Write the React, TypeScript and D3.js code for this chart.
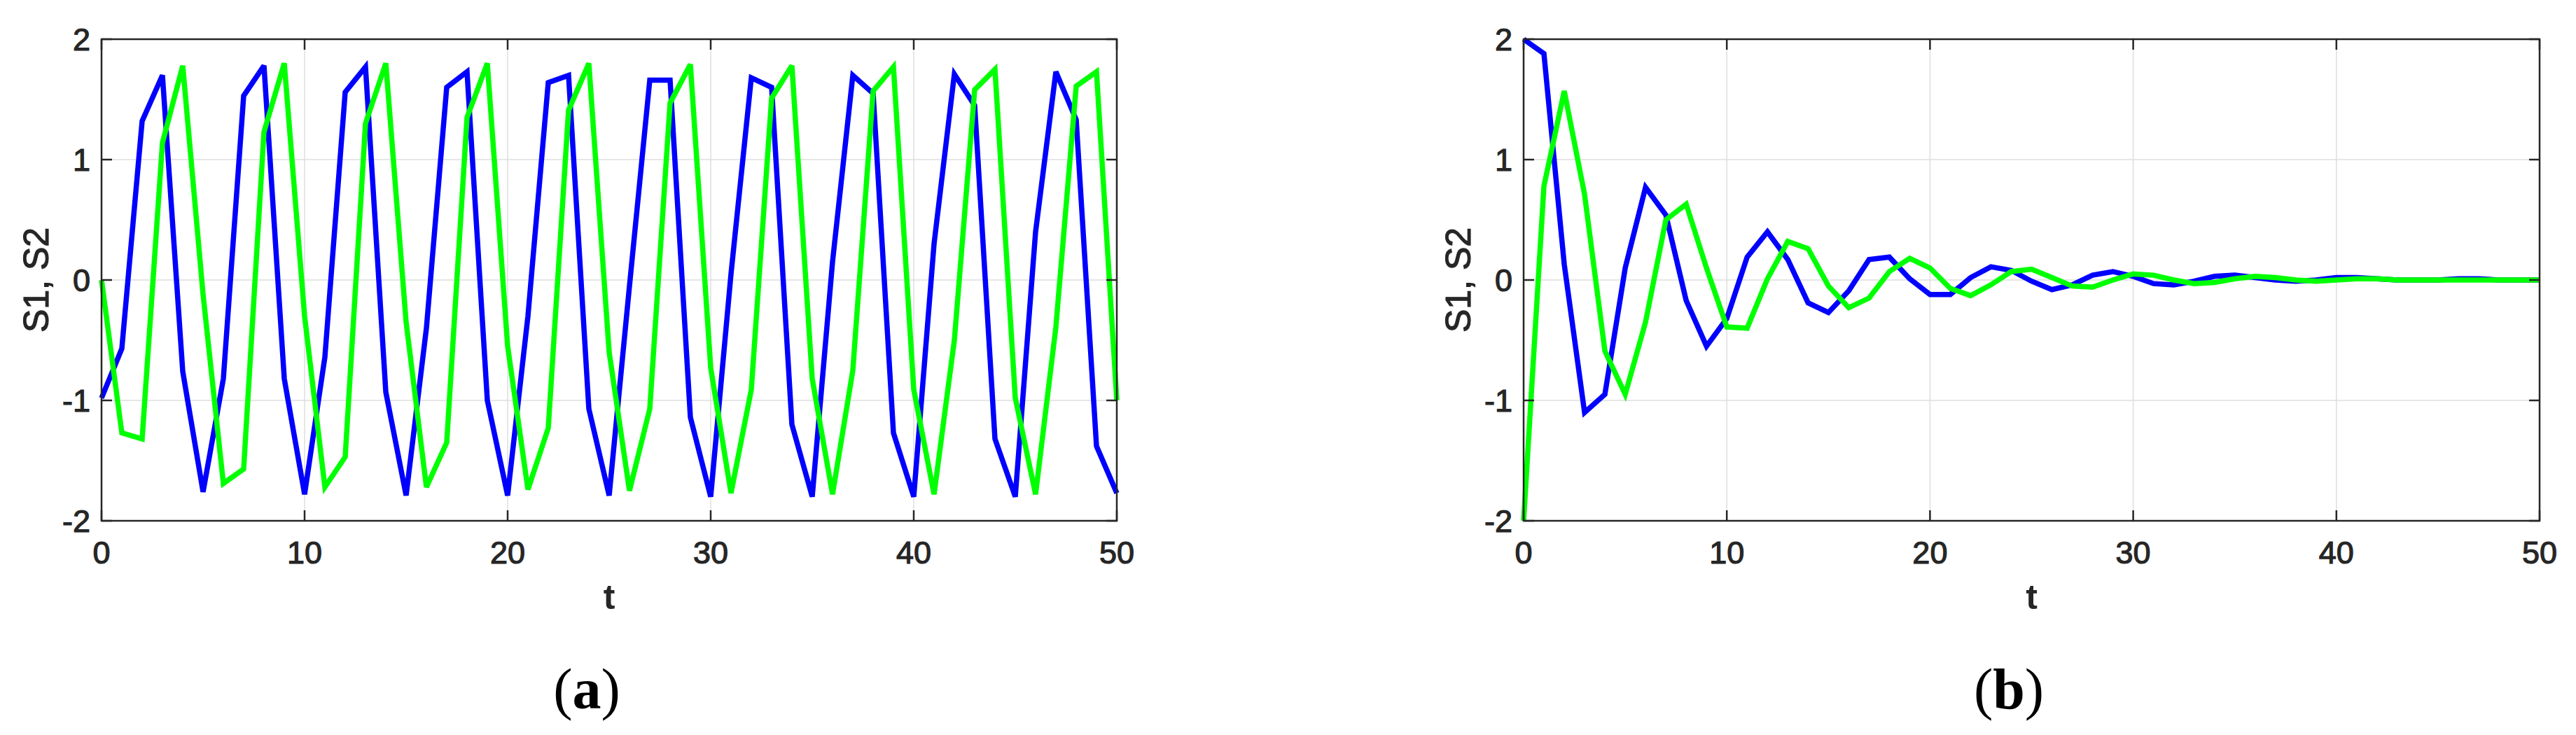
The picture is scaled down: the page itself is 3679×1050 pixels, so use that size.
import React from "react";
import * as d3 from "d3";

const tValues = d3.range(0, 51);

const s1PanelA = [
  -0.98, -0.57, 1.32, 1.70, -0.76, -1.76, -0.82, 1.53, 1.78, -0.82,
  -1.78, -0.64, 1.56, 1.77, -0.93, -1.79, -0.40, 1.60, 1.73, -1.00,
  -1.79, -0.30, 1.64, 1.70, -1.07, -1.79, -0.05, 1.66, 1.66, -1.14,
  -1.80, 0.05, 1.68, 1.60, -1.20, -1.80, 0.15, 1.70, 1.55, -1.27,
  -1.80, 0.30, 1.71, 1.45, -1.32, -1.80, 0.40, 1.73, 1.33, -1.38,
  -1.77,
];
const s2PanelA = [
  0.0, -1.27, -1.32, 1.14, 1.78, -0.12, -1.69, -1.57, 1.23, 1.80,
  -0.30, -1.72, -1.47, 1.30, 1.80, -0.35, -1.72, -1.35, 1.35, 1.80,
  -0.55, -1.74, -1.23, 1.41, 1.80, -0.60, -1.75, -1.07, 1.47, 1.79,
  -0.73, -1.77, -0.91, 1.51, 1.78, -0.82, -1.78, -0.75, 1.57, 1.77,
  -0.91, -1.78, -0.50, 1.58, 1.75, -0.98, -1.78, -0.39, 1.61, 1.73,
  -1.00,
];
const s1PanelB = [
  2.0, 1.88, 0.13, -1.10, -0.95, 0.10, 0.77, 0.54, -0.17, -0.55,
  -0.32, 0.19, 0.40, 0.17, -0.19, -0.27, -0.09, 0.17, 0.19, 0.01,
  -0.12, -0.12, 0.02, 0.11, 0.08, -0.01, -0.08, -0.04, 0.04, 0.07,
  0.03, -0.03, -0.04, -0.01, 0.03, 0.04, 0.02, 0.0, -0.01, 0.0,
  0.02, 0.02, 0.01, 0.0, 0.0, 0.0, 0.01, 0.01, 0.0, 0.0,
  0.0,
];
const s2PanelB = [
  -2.0, 0.78, 1.57, 0.71, -0.59, -0.95, -0.35, 0.50, 0.63, 0.10,
  -0.39, -0.40, 0.01, 0.32, 0.26, -0.05, -0.23, -0.15, 0.07, 0.18,
  0.10, -0.07, -0.13, -0.04, 0.07, 0.09, 0.02, -0.05, -0.06, 0.0,
  0.05, 0.04, 0.0, -0.03, -0.02, 0.01, 0.03, 0.02, 0.0, -0.01,
  0.0, 0.01, 0.01, 0.0, 0.0, 0.0, 0.0, 0.0, 0.0, 0.0,
  0.0,
];

const xTicks = [0, 10, 20, 30, 40, 50];
const yTicks = [-2, -1, 0, 1, 2];
const panelLabels = ["a", "b"];
const yLabelText = "S1, S2";
const xLabelText = "t";

const AX = "#262626";
const GRID = "#dedede";
const BLUE = "#0000ff";
const GREEN = "#00ff00";
const SANS = "'Liberation Sans', Arial, Helvetica, sans-serif";
const SERIF = "'Liberation Serif', 'Times New Roman', serif";

function Panel({ left, right, s1, s2, label, labelX }) {
  const top = 56;
  const bottom = 744;
  const x = d3.scaleLinear().domain([0, 50]).range([left, right]);
  const y = d3.scaleLinear().domain([-2, 2]).range([bottom, top]);
  const line = d3
    .line()
    .x((d) => x(d[0]))
    .y((d) => y(d[1]));
  const d1 = line(tValues.map((t, i) => [t, s1[i]]));
  const d2 = line(tValues.map((t, i) => [t, s2[i]]));
  const tl = 15;
  const cx = (left + right) / 2;
  const textStroke = { stroke: AX, strokeWidth: 1.2 };
  return (
    <g>
      {xTicks.map((t) => (
        <line key={"gx" + t} x1={x(t)} x2={x(t)} y1={top} y2={bottom} stroke={GRID} strokeWidth={1.5} />
      ))}
      {yTicks.map((v) => (
        <line key={"gy" + v} x1={left} x2={right} y1={y(v)} y2={y(v)} stroke={GRID} strokeWidth={1.5} />
      ))}
      <path d={d1} fill="none" stroke={BLUE} strokeWidth={7.5} strokeLinejoin="miter" strokeMiterlimit={3} />
      <path d={d2} fill="none" stroke={GREEN} strokeWidth={7.5} strokeLinejoin="miter" strokeMiterlimit={3} />
      <rect x={left} y={top} width={right - left} height={bottom - top} fill="none" stroke={AX} strokeWidth={2.5} />
      {xTicks.map((t) => (
        <g key={"tx" + t}>
          <line x1={x(t)} x2={x(t)} y1={bottom} y2={bottom - tl} stroke={AX} strokeWidth={2.5} />
          <line x1={x(t)} x2={x(t)} y1={top} y2={top + tl} stroke={AX} strokeWidth={2.5} />
          <text x={x(t)} y={805} textAnchor="middle" fontSize={45} fontFamily={SANS} fill={AX} {...textStroke}>
            {t}
          </text>
        </g>
      ))}
      {yTicks.map((v) => (
        <g key={"ty" + v}>
          <line x1={left} x2={left + tl} y1={y(v)} y2={y(v)} stroke={AX} strokeWidth={2.5} />
          <line x1={right} x2={right - tl} y1={y(v)} y2={y(v)} stroke={AX} strokeWidth={2.5} />
          <text x={left - 16} y={y(v) + 16} textAnchor="end" fontSize={45} fontFamily={SANS} fill={AX} {...textStroke}>
            {v}
          </text>
        </g>
      ))}
      <text
        transform={`translate(${left - 76},${(top + bottom) / 2}) rotate(-90)`}
        textAnchor="middle"
        fontSize={50}
        fontFamily={SANS}
        fill={AX}
        {...textStroke}
      >
        {yLabelText}
      </text>
      <text x={cx} y={870} textAnchor="middle" fontSize={50} fontWeight="bold" fontFamily={SANS} fill={AX}>
        {xLabelText}
      </text>
      <text x={labelX} y={1012} textAnchor="middle" fontSize={82} fontFamily={SERIF} fill="#000">
        (<tspan fontWeight="bold">{label}</tspan>)
      </text>
    </g>
  );
}

export default function App() {
  return (
    <svg
      width={3679}
      height={1050}
      style={{ position: "absolute", left: 0, top: 0, background: "#fff" }}
    >
      <rect x={0} y={0} width={3679} height={1050} fill="#fff" />
      <Panel left={145} right={1595} s1={s1PanelA} s2={s2PanelA} label={panelLabels[0]} labelX={838} />
      <Panel left={2176} right={3627} s1={s1PanelB} s2={s2PanelB} label={panelLabels[1]} labelX={2869} />
    </svg>
  );
}
